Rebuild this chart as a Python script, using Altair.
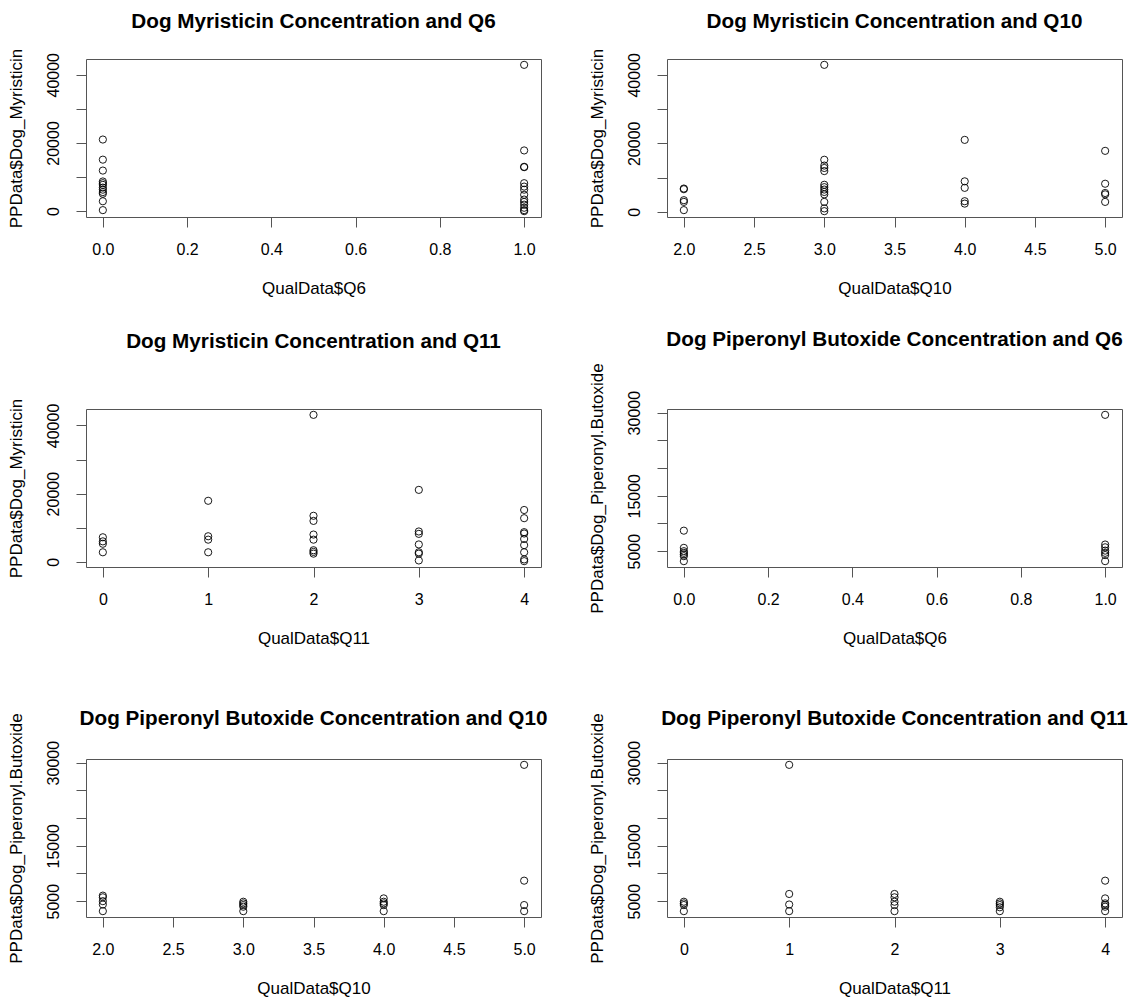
import altair as alt
import pandas as pd

FONT = "Liberation Sans"

# ---- data (grouped by x value) ----
myr_q6 = {0: [21000, 15100, 11900, 8700, 8200, 7700, 6900, 6300, 5600, 5100, 2900, 300],
          1: [42900, 17800, 13000, 12900, 8200, 7200, 6300, 4800, 3400, 2700, 1900, 1000, 300, 0]}
myr_q10 = {2: [6800, 6600, 3400, 2900, 500],
           3: [42900, 15200, 13500, 12800, 11900, 7900, 7200, 6500, 5800, 5100, 2900, 1000, 200],
           4: [21000, 8900, 7000, 3100, 2400],
           5: [17800, 8200, 5500, 5100, 2900]}
myr_q11 = {0: [7200, 6000, 5300, 2800],
           1: [17900, 7500, 6500, 2800],
           2: [43100, 13500, 12000, 8000, 6500, 3400, 2900, 2400],
           3: [21100, 8900, 8200, 5100, 2800, 2400, 400],
           4: [15200, 12800, 8700, 8300, 6700, 4900, 2800, 700, 200]}
pbo_q6 = {0: [8700, 5600, 5000, 4700, 4400, 4100, 3200],
          1: [29600, 6200, 5700, 5100, 4700, 4300, 3200]}
pbo_q10 = {2: [6000, 5700, 5000, 4400, 3200],
           3: [4900, 4600, 4300, 4000, 3200],
           4: [5500, 4900, 4600, 4300, 3200],
           5: [29600, 8700, 4300, 3200]}
pbo_q11 = {0: [4900, 4600, 4300, 3200],
           1: [29600, 6300, 4400, 3200],
           2: [6300, 5700, 4900, 4300, 3200],
           3: [4900, 4600, 4300, 3900, 3200],
           4: [8700, 5500, 4600, 4300, 4000, 3200]}

q6_ticks = [0, 0.2, 0.4, 0.6, 0.8, 1.0]
q10_ticks = [2.0, 2.5, 3.0, 3.5, 4.0, 4.5, 5.0]
q11_ticks = [0, 1, 2, 3, 4]
myr_ticks = [0, 10000, 20000, 30000, 40000]
myr_shown = [0, 20000, 40000]
pbo_ticks = [5000, 10000, 15000, 20000, 25000, 30000]
pbo_shown = [5000, 15000, 30000]


def rng(vals):
    lo, hi = min(vals), max(vals)
    ext = (hi - lo) * 0.04
    return [lo - ext, hi + ext]


def panel(title, groups, xtitle, ytitle, xticks, xfmt, yticks, yshown, title_dy):
    rows = [{"x": k, "y": v} for k, vs in groups.items() for v in vs]
    df = pd.DataFrame(rows)
    expr = " || ".join(f"datum.value == {s}" for s in yshown)
    return alt.Chart(df).mark_point(
        shape="circle", filled=False, color="black", size=52, strokeWidth=0.9, opacity=1
    ).encode(
        x=alt.X("x:Q", scale=alt.Scale(domain=rng(df["x"].tolist()), nice=False, zero=False),
                axis=alt.Axis(values=xticks, format=xfmt, grid=False, domain=False, tickSize=10,
                              tickColor="#555", labelFont=FONT, labelFontSize=16, labelColor="black",
                              labelPadding=14, labelFlush=False, labelOverlap=False,
                              title=xtitle, titleFont=FONT, titleFontSize=17,
                              titleFontWeight="normal", titleColor="black", titlePadding=23)),
        y=alt.Y("y:Q", scale=alt.Scale(domain=rng(df["y"].tolist()), nice=False, zero=False),
                axis=alt.Axis(values=yticks, format="d", grid=False, domain=False, tickSize=10,
                              tickColor="#555", labelFont=FONT, labelFontSize=16, labelColor="black",
                              labelAngle=270, labelAlign="center", labelBaseline="bottom",
                              labelPadding=15, labelFlush=False, labelOverlap=False,
                              labelExpr=f"({expr}) ? datum.label : ''",
                              title=ytitle, titleFont=FONT, titleFontSize=17,
                              titleFontWeight="normal", titleColor="black", titlePadding=20)),
    ).properties(
        width=455, height=158,
        title=alt.TitleParams(title, font=FONT, fontSize=20.7, fontWeight="bold", color="black",
                              anchor="middle", frame="group", offset=22, dy=title_dy),
    )


p1 = panel("Dog Myristicin Concentration and Q6", myr_q6, "QualData$Q6", "PPData$Dog_Myristicin",
           q6_ticks, ".1f", myr_ticks, myr_shown, 6)
p2 = panel("Dog Myristicin Concentration and Q10", myr_q10, "QualData$Q10", "PPData$Dog_Myristicin",
           q10_ticks, ".1f", myr_ticks, myr_shown, 6)
p3 = panel("Dog Myristicin Concentration and Q11", myr_q11, "QualData$Q11", "PPData$Dog_Myristicin",
           q11_ticks, "d", myr_ticks, myr_shown, -24)
p4 = panel("Dog Piperonyl Butoxide Concentration and Q6", pbo_q6, "QualData$Q6",
           "PPData$Dog_Piperonyl.Butoxide", q6_ticks, ".1f", pbo_ticks, pbo_shown, 10)
p5 = panel("Dog Piperonyl Butoxide Concentration and Q10", pbo_q10, "QualData$Q10",
           "PPData$Dog_Piperonyl.Butoxide", q10_ticks, ".1f", pbo_ticks, pbo_shown, 39)
p6 = panel("Dog Piperonyl Butoxide Concentration and Q11", pbo_q11, "QualData$Q11",
           "PPData$Dog_Piperonyl.Butoxide", q11_ticks, "d", pbo_ticks, pbo_shown, 39)

chart = alt.concat(
    p1, p2, p3, p4, p5, p6, columns=2,
    spacing={"row": 192, "column": 126}, bounds="flush",
).properties(
    padding={"left": 6, "top": 10, "right": 0, "bottom": 0},
    background="white",
).configure_view(stroke="#555", strokeWidth=1)

chart.save("out.html", embed_options={"renderer": "svg", "actions": False})
